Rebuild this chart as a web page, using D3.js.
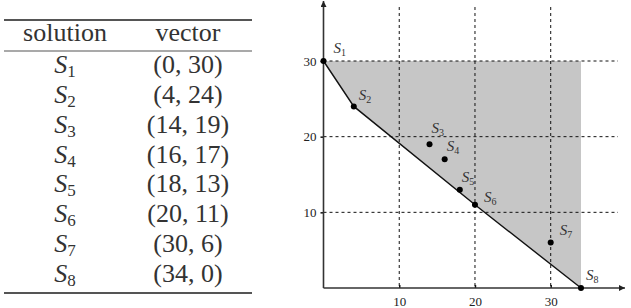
<!DOCTYPE html>
<meta charset="utf-8">
<title>Solutions and Pareto front</title>
<style>
    body {
        margin: 0;
        background: #fff;
    }

    svg {
        display: block;
    }

    .grid line {
        stroke: #111;
        stroke-width: 1;
        stroke-dasharray: 3, 3;
    }
</style>

<body>
    <svg width="631" height="308"></svg>

    <script src="https://d3js.org/d3.v7.min.js"></script>
    <script>
        // data
        const solutions = ["S1", "S2", "S3", "S4", "S5", "S6", "S7", "S8"];
        const xValues = [0, 4, 14, 16, 18, 20, 30, 34];
        const yValues = [30, 24, 19, 17, 13, 11, 6, 0];
        const frontIdx = [0, 1, 5, 7];   // non-dominated points joined by the line
        const xTicks = [10, 20, 30];
        const yTicks = [10, 20, 30];

        const serif = "'Liberation Serif'";
        const svg = d3.select("svg");

        // ---------- table on the left ----------
        const table = svg.append("g").attr("font-family", serif);
        const col1 = 65, col2 = 188;
        const rowY = d3.scaleLinear().domain([0, 7]).range([73, 282]);

        table.append("line").attr("x1", 4).attr("x2", 252).attr("y1", 20).attr("y2", 20)
            .attr("stroke", "#555").attr("stroke-width", 1.8);
        table.append("line").attr("x1", 4).attr("x2", 252).attr("y1", 51).attr("y2", 51)
            .attr("stroke", "#555").attr("stroke-width", 1.2);
        table.append("line").attr("x1", 4).attr("x2", 252).attr("y1", 293).attr("y2", 293)
            .attr("stroke", "#555").attr("stroke-width", 1.8);

        table.append("text").attr("x", col1).attr("y", 41).attr("text-anchor", "middle")
            .attr("font-size", 26).attr("fill", "#333").text("solution");
        table.append("text").attr("x", col2).attr("y", 41).attr("text-anchor", "middle")
            .attr("font-size", 26).attr("fill", "#333").text("vector");

        solutions.forEach((s, i) => {
            const t = table.append("text")
                .attr("x", col1).attr("y", rowY(i))
                .attr("text-anchor", "middle")
                .attr("fill", "#333");
            t.append("tspan").attr("font-size", 26).attr("font-style", "italic").text("S");
            t.append("tspan").attr("font-size", 17).attr("dy", 4).text(s.slice(1));

            table.append("text")
                .attr("x", col2).attr("y", rowY(i))
                .attr("text-anchor", "middle")
                .attr("font-size", 26).attr("fill", "#333")
                .text(`(${xValues[i]}, ${yValues[i]})`);
        });

        // ---------- plot on the right ----------
        const x = d3.scaleLinear().domain([0, 34]).range([323.5, 581]);
        const y = d3.scaleLinear().domain([0, 30]).range([288, 61]);
        const xEnd = 625, yTop = 1;

        const plot = svg.append("g");

        // shaded dominated region
        const region = frontIdx.map(i => [xValues[i], yValues[i]]);
        region.push([34, 30]);
        plot.append("path")
            .attr("d", d3.line().x(d => x(d[0])).y(d => y(d[1]))(region) + "Z")
            .attr("fill", "#c6c6c6");

        // dashed grid
        const grid = plot.append("g").attr("class", "grid");
        grid.selectAll(".h").data(yTicks).join("line")
            .attr("x1", x(0)).attr("x2", 618)
            .attr("y1", d => y(d)).attr("y2", d => y(d));
        grid.selectAll(".v").data(xTicks).join("line")
            .attr("x1", d => x(d)).attr("x2", d => x(d))
            .attr("y1", 7).attr("y2", y(0));

        // tick labels via d3 axes
        const styleAxis = g => {
            g.select(".domain").remove();
            g.attr("font-family", serif).attr("font-size", 13);
            g.selectAll(".tick text").attr("fill", "#222");
            g.selectAll(".tick line").attr("stroke", "#111").attr("stroke-width", 1.5);
        };
        plot.append("g").attr("transform", `translate(${x(0)},0)`)
            .call(d3.axisLeft(y).tickValues(yTicks).tickSize(3).tickPadding(4))
            .call(styleAxis);
        plot.append("g").attr("transform", `translate(0,${y(0)})`)
            .call(d3.axisBottom(x).tickValues(xTicks).tickSize(-3).tickPadding(9))
            .call(styleAxis);

        // axis lines with arrows
        const defs = svg.append("defs");
        defs.append("marker").attr("id", "arrow")
            .attr("viewBox", "0 0 10 10").attr("refX", 10).attr("refY", 5)
            .attr("markerWidth", 8).attr("markerHeight", 6)
            .attr("markerUnits", "userSpaceOnUse")
            .attr("orient", "auto")
            .append("path").attr("d", "M0,0L10,5L0,10Z").attr("fill", "#222");

        plot.append("line").attr("x1", x(0)).attr("x2", x(0)).attr("y1", y(0)).attr("y2", yTop)
            .attr("stroke", "#333").attr("stroke-width", 1.6).attr("marker-end", "url(#arrow)");
        plot.append("line").attr("x1", x(0)).attr("x2", xEnd).attr("y1", y(0)).attr("y2", y(0))
            .attr("stroke", "#333").attr("stroke-width", 1.6).attr("marker-end", "url(#arrow)");

        // Pareto front
        plot.append("path")
            .attr("d", d3.line().x(i => x(xValues[i])).y(i => y(yValues[i]))(frontIdx))
            .attr("fill", "none").attr("stroke", "#111").attr("stroke-width", 1.4);

        // points
        plot.selectAll("circle").data(solutions).join("circle")
            .attr("cx", (d, i) => x(xValues[i]))
            .attr("cy", (d, i) => y(yValues[i]))
            .attr("r", 3)
            .attr("fill", "#000");

        // point labels (offsets in px from each point)
        const labelOffset = [[10, -8], [5, -6], [2, -11], [2, -8], [2, -8], [9, -3], [9, -8], [5, -8]];
        solutions.forEach((s, i) => {
            const t = plot.append("text")
                .attr("x", x(xValues[i]) + labelOffset[i][0])
                .attr("y", y(yValues[i]) + labelOffset[i][1])
                .attr("font-family", serif)
                .attr("fill", "#333");
            t.append("tspan").attr("font-size", 15).attr("font-style", "italic").text("S");
            t.append("tspan").attr("font-size", 10).attr("dy", 3).text(s.slice(1));
        });
    </script>
</body>

</html>
